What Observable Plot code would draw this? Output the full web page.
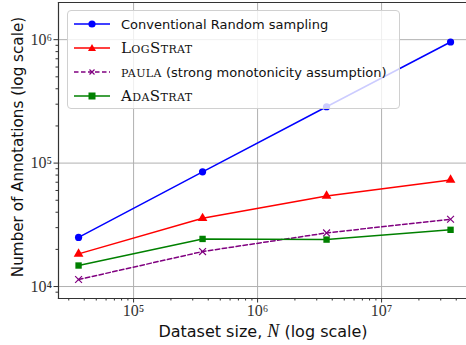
<!DOCTYPE html>
<html><head><meta charset="utf-8">
<script src="https://cdn.jsdelivr.net/npm/d3@7"></script>
<script src="https://cdn.jsdelivr.net/npm/@observablehq/plot@0.6"></script>
<style>
body{margin:0;background:#fff;}
#wrap{position:relative;width:466px;height:345px;overflow:hidden;}
.legend{position:absolute;left:67px;top:10px;width:333px;height:99px;background:rgba(255,255,255,0.8);border:1px solid #d0d0d0;border-radius:4px;box-sizing:border-box;}
.row{position:absolute;left:5px;height:20px;display:flex;align-items:center;}
.row svg{width:38px;height:14px;}
.lab{margin-left:10px;font-family:"DejaVu Sans",sans-serif;font-size:13px;color:#111;white-space:nowrap;}
.sc{font-family:"DejaVu Serif",serif;font-variant:small-caps;font-size:15px;letter-spacing:0.4px;}
</style>
</head><body><div id="wrap"></div>
<script>
const sizes = [36000, 360000, 3600000, 36000000];
const randomSampling = [25000, 85000, 286000, 957000];
const logStrat = [18400, 35700, 54200, 73100];
const paula = [11400, 19200, 27200, 35100];
const adaStrat = [14800, 24300, 24000, 28800];
const seriesNames = ["Conventional Random sampling", "LogStrat", "paula", "AdaStrat"];
const seriesColors = ["#0000ff", "#ff0000", "#800080", "#008000"];
const seriesSymbols = ["circle", "triangle", "times", "square"];
const seriesDash = [null, null, "4.5,2.5", null];
const xTicks = [1e5, 1e6, 1e7];
const yTicks = [1e4, 1e5, 1e6];
const xMinor = [3e4,4e4,5e4,6e4,7e4,8e4,9e4,2e5,3e5,4e5,5e5,6e5,7e5,8e5,9e5,2e6,3e6,4e6,5e6,6e6,7e6,8e6,9e6,2e7,3e7,4e7];
const yMinor = [9e3,2e4,3e4,4e4,5e4,6e4,7e4,8e4,9e4,2e5,3e5,4e5,5e5,6e5,7e5,8e5,9e5];

const allSeries = [randomSampling, logStrat, paula, adaStrat];
const rows = [];
allSeries.forEach((vals, s) => vals.forEach((v, i) => rows.push({series: seriesNames[s], x: sizes[i], y: v})));

const sup = {"4":"⁴","5":"⁵","6":"⁶","7":"⁷"};
const fmt = d => "10" + sup[String(Math.round(Math.log10(d)))];

const lineMarks = [];
seriesNames.forEach((name, s) => {
  const data = rows.filter(r => r.series === name);
  lineMarks.push(Plot.line(data, {x:"x", y:"y", stroke: seriesColors[s], strokeWidth: 1.5, strokeDasharray: seriesDash[s]}));
  const sym = seriesSymbols[s];
  lineMarks.push(Plot.dot(data, {x:"x", y:"y", symbol: sym,
    r: sym === "times" ? 3.2 : 3.6,
    fill: sym === "times" ? "none" : seriesColors[s],
    stroke: seriesColors[s], strokeWidth: sym === "times" ? 1.2 : 0}));
});

const chart = Plot.plot({
  width: 466, height: 345,
  marginLeft: 58, marginRight: 0, marginTop: 2, marginBottom: 47,
  style: {fontFamily: "'Liberation Serif', serif", fontSize: "14px", color: "#222", background: "#fff"},
  x: {type: "log", domain: [24800, 48400000], label: null},
  y: {type: "log", domain: [8000, 2.0e6], label: null},
  marks: [
    Plot.ruleX(xTicks, {stroke: "#b0b0b0", strokeWidth: 1}),
    Plot.ruleY(yTicks, {stroke: "#b0b0b0", strokeWidth: 1}),
    ...lineMarks,
    Plot.axisX(xMinor, {tickSize: 2.5, tickFormat: () => "", stroke: "#333", label: null}),
    Plot.axisY(yMinor, {tickSize: 2.5, tickFormat: () => "", stroke: "#333", label: null}),
    Plot.axisX(xTicks, {tickSize: 4.5, tickFormat: fmt, tickPadding: 2, fontSize: 16, stroke: "#333", fill: "#333", label: null}),
    Plot.axisY(yTicks, {tickSize: 4.5, tickFormat: fmt, tickPadding: 2, fontSize: 16, stroke: "#333", fill: "#333", label: null}),
    Plot.frame({anchor: "left", stroke: "#333", strokeWidth: 1.2}),
    Plot.frame({anchor: "bottom", stroke: "#333", strokeWidth: 1.2}),
    Plot.frame({anchor: "top", stroke: "#333", strokeWidth: 1.2})
  ]
});
const wrap = document.getElementById("wrap");
wrap.appendChild(chart);

// axis labels
const svg = d3.select(chart);
svg.append("text").attr("x", 263).attr("y", 337).attr("text-anchor", "middle")
  .style("font-family", "'DejaVu Sans',sans-serif").style("font-size", "16px").attr("fill", "#111")
  .html('Dataset size, <tspan style="font-family:\'Liberation Serif\',serif;font-style:italic;font-size:18px">N</tspan> (log scale)');
svg.append("text").attr("transform", "translate(23,147) rotate(-90)").attr("text-anchor", "middle")
  .style("font-family", "'DejaVu Sans',sans-serif").style("font-size", "15.2px").attr("fill", "#111")
  .text("Number of Annotations (log scale)");

// legend
const legend = document.createElement("div");
legend.className = "legend";
const labels = [
  'Conventional Random sampling',
  '<span class="sc">LogStrat</span>',
  '<span class="sc">paula</span> (strong monotonicity assumption)',
  '<span class="sc">AdaStrat</span>'
];
const symSvg = s => {
  const c = seriesColors[s];
  if (seriesSymbols[s] === "circle") return `<circle cx="19" cy="7" r="3.6" fill="${c}"/>`;
  if (seriesSymbols[s] === "triangle") return `<path d="M19,3 L23,10 L15,10 Z" fill="${c}"/>`;
  if (seriesSymbols[s] === "times") return `<path d="M16.5,4.5 L21.5,9.5 M21.5,4.5 L16.5,9.5" stroke="${c}" stroke-width="1.2"/>`;
  return `<rect x="15.5" y="3.5" width="7" height="7" fill="${c}"/>`;
};
seriesNames.forEach((n, s) => {
  const row = document.createElement("div");
  row.className = "row";
  row.style.top = (3 + s * 24) + "px";
  const dash = seriesDash[s] ? `stroke-dasharray="${seriesDash[s]}"` : "";
  row.innerHTML = `<svg viewBox="0 0 38 14"><line x1="1" y1="7" x2="37" y2="7" stroke="${seriesColors[s]}" stroke-width="1.5" ${dash}/>${symSvg(s)}</svg><span class="lab">${labels[s]}</span>`;
  legend.appendChild(row);
});
wrap.appendChild(legend);
</script>
</body></html>
